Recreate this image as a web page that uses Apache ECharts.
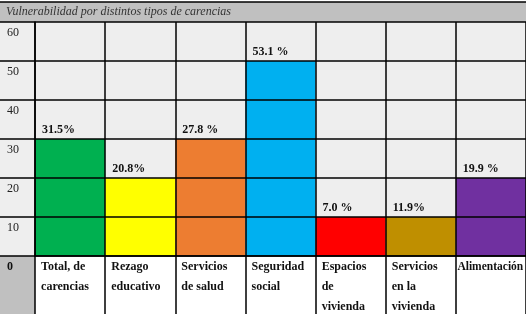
<!DOCTYPE html>
<html>
<head>
<meta charset="utf-8">
<script src="https://cdn.jsdelivr.net/npm/echarts@6/dist/echarts.min.js"></script>
<style>
  html, body { margin: 0; padding: 0; background: #fff; }
  #chart { width: 526px; height: 314px; }
</style>
</head>
<body>
<div id="chart"></div>
<script>
const categories = [
  'Total, de\ncarencias', 'Rezago\neducativo', 'Servicios\nde salud', 'Seguridad\nsocial',
  'Espacios\nde\nvivienda', 'Servicios\nen la\nvivienda', 'Alimentación'
];
// filled cell height as drawn in the picture
const barHeights = [30, 20, 30, 50, 10, 10, 20];
const valueLabels = ['31.5%', '20.8%', '27.8 %', '53.1 %', '7.0 %', '11.9%', '19.9 %'];
const barColors = ['#00b050', '#ffff00', '#ed7d31', '#00b0f0', '#ff0000', '#bf8f00', '#7030a0'];

const serif = '"Liberation Serif", "DejaVu Serif", serif';
const chart = echarts.init(document.getElementById('chart'));

chart.setOption({
  animation: false,
  backgroundColor: '#fff',
  title: {
    text: 'Vulnerabilidad por distintos tipos de carencias',
    left: 2,
    top: 4,
    padding: [2, 4],
    textStyle: { fontFamily: serif, fontStyle: 'italic', fontWeight: 'normal', fontSize: 12, color: '#333' }
  },
  graphic: [
    { type: 'rect', z: -1, shape: { x: 0, y: 2, width: 526, height: 20 }, style: { fill: '#c0c0c0' } },
    { type: 'line', shape: { x1: 0, y1: 2, x2: 526, y2: 2 }, style: { stroke: '#000', lineWidth: 1.5 } },
    { type: 'rect', z: -1, shape: { x: 0, y: 22, width: 35, height: 234 }, style: { fill: '#eeeeee' } },
    { type: 'rect', z: -1, shape: { x: 0, y: 256, width: 35, height: 58 }, style: { fill: '#c0c0c0' } }
  ],
  grid: {
    left: 35, right: 0, top: 22, bottom: 58,
    containLabel: false,
    outerBoundsMode: 'none',
    show: true, backgroundColor: '#eeeeee', borderWidth: 0
  },
  xAxis: {
    type: 'category',
    data: categories,
    z: 10,
    axisLine: { lineStyle: { color: '#000', width: 1.5 } },
    axisTick: { show: true, alignWithLabel: false, interval: 0, length: 58, lineStyle: { color: '#000', width: 1.5 } },
    splitLine: { show: true, interval: 0, lineStyle: { color: '#000', width: 1.5 } },
    axisLabel: {
      interval: 0,
      margin: 1,
      align: 'center',
      // the last, long name sits a bit closer to its cell's left border
      formatter: (v, i) => {
        const tag = i === categories.length - 1 ? 'd' : 'c';
        return v.split('\n').map(s => '{' + tag + '|' + s + '}').join('\n');
      },
      rich: {
        c: { width: 58, align: 'left', fontFamily: serif, fontWeight: 'bold', fontSize: 12, lineHeight: 20, color: '#111' },
        d: { width: 67, align: 'left', fontFamily: serif, fontWeight: 'bold', fontSize: 11.5, lineHeight: 20, color: '#111' }
      }
    }
  },
  yAxis: {
    type: 'value',
    min: 0, max: 60, interval: 10,
    z: 10,
    axisLine: { show: true, lineStyle: { color: '#000', width: 1.5 } },
    axisTick: { show: true, length: 35, lineStyle: { color: '#000', width: 1.5 } },
    splitLine: { show: true, lineStyle: { color: '#000', width: 1.5 } },
    axisLabel: {
      align: 'left',
      verticalAlign: 'top',
      margin: 28,
      padding: [4, 0, 0, 0],
      fontFamily: serif,
      fontSize: 12,
      lineHeight: 14,
      color: '#222',
      formatter: v => (v === 0 ? '{b|0}' : String(v)),
      rich: { b: { fontFamily: serif, fontWeight: 'bold', fontSize: 12, lineHeight: 14, color: '#111' } }
    }
  },
  series: [{
    type: 'bar',
    barCategoryGap: 0,
    data: barHeights.map((v, i) => ({ value: v, itemStyle: { color: barColors[i] } })),
    label: {
      show: true,
      position: [7, -16],
      formatter: p => valueLabels[p.dataIndex],
      fontFamily: serif,
      fontWeight: 'bold',
      fontSize: 12,
      lineHeight: 14,
      color: '#111'
    }
  }]
});
</script>
</body>
</html>
